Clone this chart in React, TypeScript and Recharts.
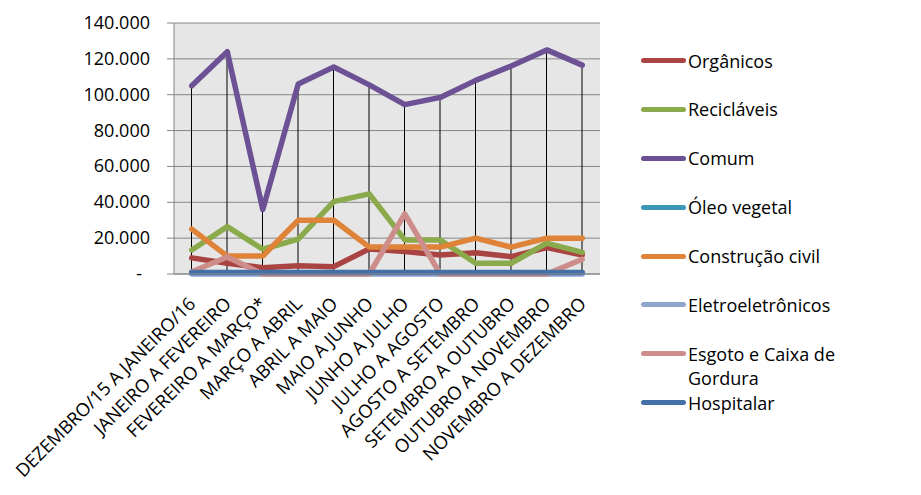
import { ComposedChart, Line, Bar, XAxis, YAxis, CartesianGrid } from "recharts";

const categories = [
  "DEZEMBRO/15 A JANEIRO/16",
  "JANEIRO A FEVEREIRO",
  "FEVEREIRO A MARÇO*",
  "MARÇO A ABRIL",
  "ABRIL A MAIO",
  "MAIO A JUNHO",
  "JUNHO A JULHO",
  "JULHO A AGOSTO",
  "AGOSTO A SETEMBRO",
  "SETEMBRO A OUTUBRO",
  "OUTUBRO A NOVEMBRO",
  "NOVEMBRO A DEZEMBRO",
];

const organicos = [9000, 6000, 3500, 4600, 4100, 14000, 12500, 10600, 11900, 9700, 14700, 10600];
const reciclaveis = [13400, 26400, 13800, 19400, 40400, 44700, 19000, 19000, 6000, 6000, 17200, 12100];
const comum = [105000, 124000, 36000, 106000, 115500, 105500, 94500, 98500, 108000, 116000, 125000, 116500];
const oleoVegetal = [600, 600, 600, 600, 600, 600, 600, 600, 600, 600, 600, 600];
const construcaoCivil = [25000, 10000, 10000, 30000, 30000, 15000, 15000, 15000, 20000, 15000, 20000, 20000];
const eletroeletronicos = [0, 0, 0, 0, 0, 0, 0, 0, 0, 0, 0, 0];
const esgoto = [1300, 9500, 0, 0, 0, 0, 33500, 0, 0, 0, 0, 8200];
const hospitalar = [800, 800, 800, 800, 800, 800, 800, 800, 800, 800, 800, 800];

const yTicks = [0, 20000, 40000, 60000, 80000, 100000, 120000, 140000];

const series = [
  { key: "organicos", name: "Orgânicos", color: "#A94442", values: organicos },
  { key: "reciclaveis", name: "Recicláveis", color: "#8BAA4B", values: reciclaveis },
  { key: "comum", name: "Comum", color: "#6C5294", values: comum },
  { key: "oleo", name: "Óleo vegetal", color: "#3C97B4", values: oleoVegetal },
  { key: "construcao", name: "Construção civil", color: "#DE8338", values: construcaoCivil },
  { key: "eletro", name: "Eletroeletrônicos", color: "#8FA7CF", values: eletroeletronicos },
  { key: "esgoto", name: "Esgoto e Caixa de Gordura", color: "#CD8D8B", values: esgoto },
  { key: "hospitalar", name: "Hospitalar", color: "#4470A8", values: hospitalar },
];

const data = categories.map((name, i) => {
  const row: any = { name };
  series.forEach((s) => (row[s.key] = s.values[i]));
  return row;
});

const FONT = "'Open Sans', sans-serif";

const formatNumber = (v: number) =>
  String(v).replace(/\B(?=(\d{3})+(?!\d))/g, ".");

const YTick = ({ x, y, payload }: any) => {
  if (payload.value === 0) {
    return (
      <text x={x - 8} y={y} dy={6} textAnchor="end" fontSize={18} fontFamily={FONT} fill="#000">
        -
      </text>
    );
  }
  return (
    <text x={x} y={y} dy={6} textAnchor="end" fontSize={18} fontFamily={FONT} fill="#000">
      {formatNumber(payload.value)}
    </text>
  );
};

const XTick = ({ x, y, payload }: any) => (
  <g transform={`translate(${x + 5},${y + 31})`}>
    <text x={0} y={0} textAnchor="end" transform="rotate(-45)" fontSize={18.3} fontFamily={FONT} fill="#000">
      {payload.value}
    </text>
  </g>
);

function ChartLegend() {
  return (
    <div style={{ position: "absolute", left: 641, top: 36, fontFamily: FONT, fontSize: 18 }}>
      {series.map((s) => (
        <div key={s.key} style={{ position: "relative", height: 48.9 }}>
          <div
            style={{
              position: "absolute",
              left: 0,
              top: 22,
              width: 45,
              height: 5,
              borderRadius: 3,
              background: s.color,
            }}
          />
          <div
            style={{
              position: "absolute",
              left: 47,
              top: 12.5,
              width: 175,
              lineHeight: "24px",
              color: "#000",
            }}
          >
            {s.name}
          </div>
        </div>
      ))}
    </div>
  );
}

export default function App() {
  return (
    <div style={{ position: "absolute", left: 0, top: 0, width: 921, height: 495, background: "#fff" }}>
      <ComposedChart
        width={921}
        height={495}
        data={data}
        margin={{ top: 23, right: 321, left: 0, bottom: 0 }}
      >
        <CartesianGrid vertical={false} stroke="#868686" fill="#E6E6E6" />
        <XAxis
          dataKey="name"
          height={221}
          interval={0}
          tickLine={false}
          tickSize={0}
          tickMargin={0}
          axisLine={{ stroke: "#868686" }}
          tick={<XTick />}
        />
        <YAxis
          width={174}
          domain={[0, 140000]}
          ticks={yTicks}
          interval={0}
          tickSize={7}
          tickMargin={17}
          axisLine={{ stroke: "#868686" }}
          tickLine={{ stroke: "#868686" }}
          tick={<YTick />}
        />
        {series.map((s) => (
          <Line
            key={s.key}
            type="linear"
            dataKey={s.key}
            name={s.name}
            stroke={s.color}
            strokeWidth={5.5}
            strokeLinecap="round"
            strokeLinejoin="round"
            dot={false}
            activeDot={false}
            isAnimationActive={false}
          />
        ))}
        <Bar dataKey="comum" barSize={1} fill="#000" legendType="none" isAnimationActive={false} />
      </ComposedChart>
      <ChartLegend />
    </div>
  );
}
